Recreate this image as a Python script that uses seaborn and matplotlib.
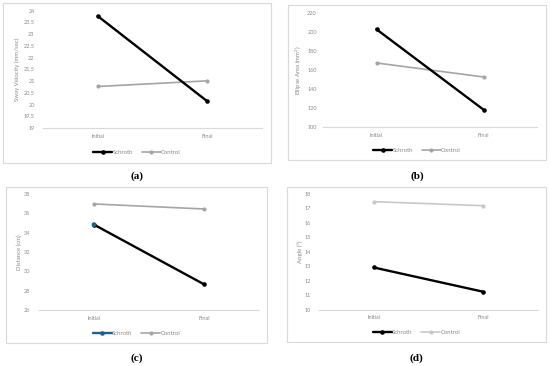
import matplotlib
matplotlib.use("Agg")
import matplotlib.pyplot as plt
import seaborn as sns
import pandas as pd
from matplotlib.patches import Rectangle
from matplotlib.lines import Line2D

stages = ["Initial", "Final"]
groups = ["Schroth", "Control"]

sway_schroth = [23.77, 20.14]
sway_control = [20.77, 21.01]
area_schroth = [203.1, 118.3]
area_control = [167.6, 152.8]
dist_schroth = [34.83, 28.66]
dist_control = [36.97, 36.45]
angle_schroth = [12.91, 11.23]
angle_control = [17.47, 17.19]

ylabels = ["Sway Velocity (mm/sec)", "Ellipse Area (mm$^2$)", "Distance (cm)", "Angle (°)"]
captions = ["(a)", "(b)", "(c)", "(d)"]

sns.set_theme(style="white")
plt.rcParams["font.family"] = ["Lato", "DejaVu Sans"]

W, H = 550, 366
fig = plt.figure(figsize=(5.5, 3.66), dpi=100)

TXT = "#8a8a8a"
GRID = "#d9d9d9"


def frac_rect(x0, y0, x1, y1):
    return [x0 / W, 1 - y1 / H, (x1 - x0) / W, (y1 - y0) / H]


def panel(axrect, boxrect, schroth, control, ylim, step, ylabel, caption, cap_y,
          ctrl_color, schroth_first_color=None, leg_y=None, ylab_x=None, ypad=6):
    bx0, by0, bx1, by1 = boxrect
    fig.patches.append(Rectangle((bx0 / W, 1 - by1 / H), (bx1 - bx0) / W, (by1 - by0) / H,
                                 transform=fig.transFigure, fill=False,
                                 edgecolor="#d9d9d9", lw=0.8))
    ax = fig.add_axes(frac_rect(*axrect))
    df = pd.DataFrame({
        "stage": stages * 2,
        "value": list(schroth) + list(control),
        "group": [groups[0]] * 2 + [groups[1]] * 2,
    })
    sns.lineplot(data=df[df.group == "Control"], x="stage", y="value", color=ctrl_color,
                 lw=1.2, marker="o", markersize=3, markeredgewidth=0, ax=ax, sort=False)
    sns.lineplot(data=df[df.group == "Schroth"], x="stage", y="value", color="black",
                 lw=1.7, marker="o", markersize=3.3, markeredgewidth=0, ax=ax, sort=False)
    sch_col = "black"
    if schroth_first_color is not None:
        sch_col = schroth_first_color
        first = df[(df.group == "Schroth") & (df.stage == stages[0])]
        sns.scatterplot(data=first, x="stage", y="value", color=schroth_first_color,
                        s=12, edgecolor="none", ax=ax, zorder=5)
    ax.set_xlim(-0.5, 1.5)
    ax.set_ylim(*ylim)
    ticks = []
    v = ylim[0]
    while v <= ylim[1] + 1e-9:
        ticks.append(v)
        v += step
    ax.set_yticks(ticks)
    ax.set_yticklabels([f"{t:g}" for t in ticks])
    for s in ["top", "right", "left"]:
        ax.spines[s].set_visible(False)
    ax.spines["bottom"].set_color(GRID)
    ax.spines["bottom"].set_linewidth(0.8)
    ax.tick_params(axis="both", length=0, labelsize=4, colors=TXT, pad=4)
    ax.tick_params(axis="y", pad=ypad)
    ax.set_xlabel("")
    ax.set_ylabel("")
    ax0, ay0, ax1, ay1 = axrect
    fig.text(ylab_x / W, 1 - ((ay0 + ay1) / 2) / H, ylabel, rotation=90, fontsize=4.3,
             color=TXT, ha="center", va="center")
    if ax.get_legend() is not None:
        ax.get_legend().remove()
    handles = [Line2D([], [], color=sch_col, lw=1.7, marker="o", markersize=3.3, markeredgewidth=0),
               Line2D([], [], color=ctrl_color, lw=1.2, marker="o", markersize=3, markeredgewidth=0)]
    cx = (bx0 + bx1) / 2
    fig.legend(handles, groups, loc="center", bbox_to_anchor=(cx / W, 1 - leg_y / H),
               ncol=2, frameon=False, fontsize=4.3, handlelength=3.2, handletextpad=0.0,
               columnspacing=1.5, labelcolor=TXT)
    fig.text(cx / W, 1 - cap_y / H, caption, ha="center", va="center", fontsize=8,
             family=["Liberation Serif"], fontweight="bold", color="black")
    return ax


panel((43, 10.7, 262, 128), (3, 3, 271, 163), sway_schroth, sway_control, (19, 24), 0.5,
      ylabels[0], captions[0], 176, "#a5a5a5", leg_y=152, ylab_x=17, ypad=6)
panel((323, 13.3, 537, 127), (288, 5, 546, 160), area_schroth, area_control, (100, 220), 20,
      ylabels[1], captions[1], 176, "#a5a5a5", leg_y=150, ylab_x=299, ypad=4.5)
panel((39, 194, 259, 310), (6, 187, 267, 343), dist_schroth, dist_control, (26, 38), 2,
      ylabels[2], captions[2], 358, "#a5a5a5", schroth_first_color="#1f5f8b", leg_y=333,
      ylab_x=19, ypad=6.5)
panel((319, 194, 538, 309.5), (287, 187, 546, 342), angle_schroth, angle_control, (10, 18), 1,
      ylabels[3], captions[3], 358, "#c8c8c8", leg_y=332, ylab_x=300, ypad=6)

fig.savefig("out.png", dpi=100, facecolor="white")
